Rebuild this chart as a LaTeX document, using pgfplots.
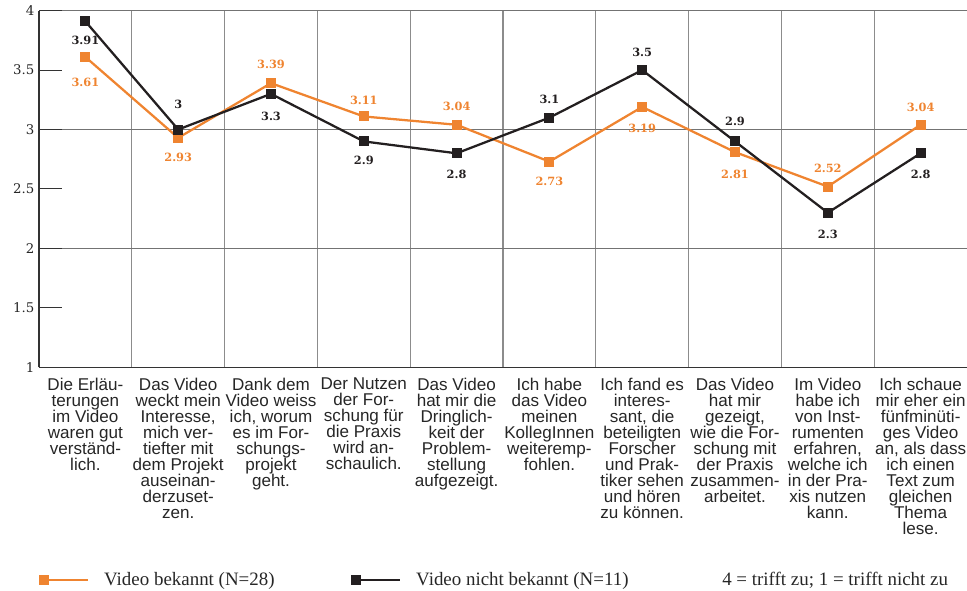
\documentclass[border=0pt]{standalone}
\usepackage{fontspec}
\setmainfont{Liberation Serif}
\setsansfont{Liberation Sans}
\newfontfamily\numfont{DejaVu Serif}
\usepackage{pgfplots}
\usepackage{pgfplotstable}
\pgfplotsset{compat=1.18}
\definecolor{vorange}{HTML}{EF8430}
\definecolor{vblack}{HTML}{231F20}

% x value label-text label-offset(pt)
\pgfplotstableread{
x y lab off
0 3.61 3.61 -19
1 2.93 2.93 -15
2 3.39 3.39 14
3 3.11 3.11 12
4 3.04 3.04 14
5 2.73 2.73 -15
6 3.19 3.19 -16
7 2.81 2.81 -17
8 2.52 2.52 14
9 3.04 3.04 13
}\bekannt
\pgfplotstableread{
x y lab off
0 3.91 3.91 -14
1 3.00 3 19
2 3.30 3.3 -17
3 2.90 2.9 -14
4 2.80 2.8 -16
5 3.10 3.1 14
6 3.50 3.5 13
7 2.90 2.9 15
8 2.30 2.3 -16.5
9 2.80 2.8 -16
}\nichtbekannt

\begin{document}
\begin{tikzpicture}
\begin{axis}[
  scale only axis, width=696pt, height=267.45pt,
  xmin=-0.5, xmax=9.5, ymin=1, ymax=4, clip=false,
  axis x line*=bottom, axis y line*=left,
  axis line style={-, draw=black!80, line width=0.8pt},
  ytick={1,1.5,...,4},
  yticklabel style={font=\numfont\fontsize{10}{11}\selectfont,
    /pgf/number format/assume math mode=true, text=black!85},
  major tick length=17pt, tick align=inside,
  ytick style={draw=black!80, line width=0.8pt},
  extra y ticks={2,3,4}, extra y tick labels={},
  extra y tick style={grid=major, major grid style={black!55, line width=0.8pt},
    tick style={draw=none}},
  xtick={0,...,9},
  xtick style={draw=none},
  minor xtick={0.5,1.5,2.5,3.5,4.5,5.5,6.5,7.5,8.5}, minor tick length=0pt,
  xminorgrids, minor x grid style={black!45, line width=0.8pt},
  xticklabel style={align=center, font=\sffamily\fontsize{12.8}{12}\selectfont,
    text=black!85, yshift=-4.5pt},
  xticklabels={
    {Die Erläu-\\terungen\\im Video\\waren gut\\verständ-\\lich.},
    {Das Video\\weckt mein\\Interesse,\\mich ver-\\tiefter mit\\dem Projekt\\auseinan-\\derzuset-\\zen.},
    {Dank dem\\Video weiss\\ich, worum\\es im For-\\schungs-\\projekt\\geht.},
    {Der Nutzen\\der For-\\schung für\\die Praxis\\wird an-\\schaulich.},
    {Das Video\\hat mir die\\Dringlich-\\keit der\\Problem-\\stellung\\aufgezeigt.},
    {Ich habe\\das Video\\meinen\\KollegInnen\\weiteremp-\\fohlen.},
    {Ich fand es\\interes-\\sant, die\\beteiligten\\Forscher\\und Prak-\\tiker sehen\\und hören\\zu können.},
    {Das Video\\hat mir\\gezeigt,\\wie die For-\\schung mit\\der Praxis\\zusammen-\\arbeitet.},
    {Im Video\\habe ich\\von Inst-\\rumenten\\erfahren,\\welche ich\\in der Pra-\\xis nutzen\\kann.},
    {Ich schaue\\mir eher ein\\fünfminüti-\\ges Video\\an, als dass\\ich einen\\Text zum\\gleichen\\Thema\\lese.}
  },
  legend style={at={(0,-0.597)}, anchor=west, draw=none, fill=none,
    inner sep=0pt, font=\fontsize{14.2}{16}\selectfont, text=black!85,
    /tikz/every odd column/.append style={column sep=9pt},
    /tikz/every even column/.append style={column sep=55.5pt}},
  legend columns=2, legend cell align=left,
  legend image code/.code={
    \draw[#1, mark=none] (0pt,0pt) -- (36pt,0pt);
    \draw[#1] plot coordinates {(3pt,0pt)};
  },
]
\addplot[vorange, line width=1.7pt, mark=square*, mark size=2.9pt,
  nodes near coords, point meta=explicit symbolic,
  visualization depends on={\thisrow{off} \as \off},
  every node near coord/.append style={font=\numfont\bfseries\fontsize{8.5}{10}\selectfont,
    text=vorange, anchor=center, yshift=\off pt}]
  table[x=x, y=y, meta=lab] {\bekannt};
\addplot[vblack, line width=1.7pt, mark=square*, mark size=2.9pt,
  nodes near coords, point meta=explicit symbolic,
  visualization depends on={\thisrow{off} \as \off},
  every node near coord/.append style={font=\numfont\bfseries\fontsize{8.5}{10}\selectfont,
    text=vblack, anchor=center, yshift=\off pt}]
  table[x=x, y=y, meta=lab] {\nichtbekannt};
\legend{Video bekannt (N=28), Video nicht bekannt (N=11)}
\node[anchor=west, font=\fontsize{14.2}{16}\selectfont, inner sep=0pt, text=black!85]
  at (rel axis cs:0.736,-0.597) {4 = trifft zu; 1 = trifft nicht zu};
\end{axis}
\pgfresetboundingbox
\useasboundingbox (-29.25pt,-167.8pt) rectangle (696pt,275.45pt);
\end{tikzpicture}
\end{document}
